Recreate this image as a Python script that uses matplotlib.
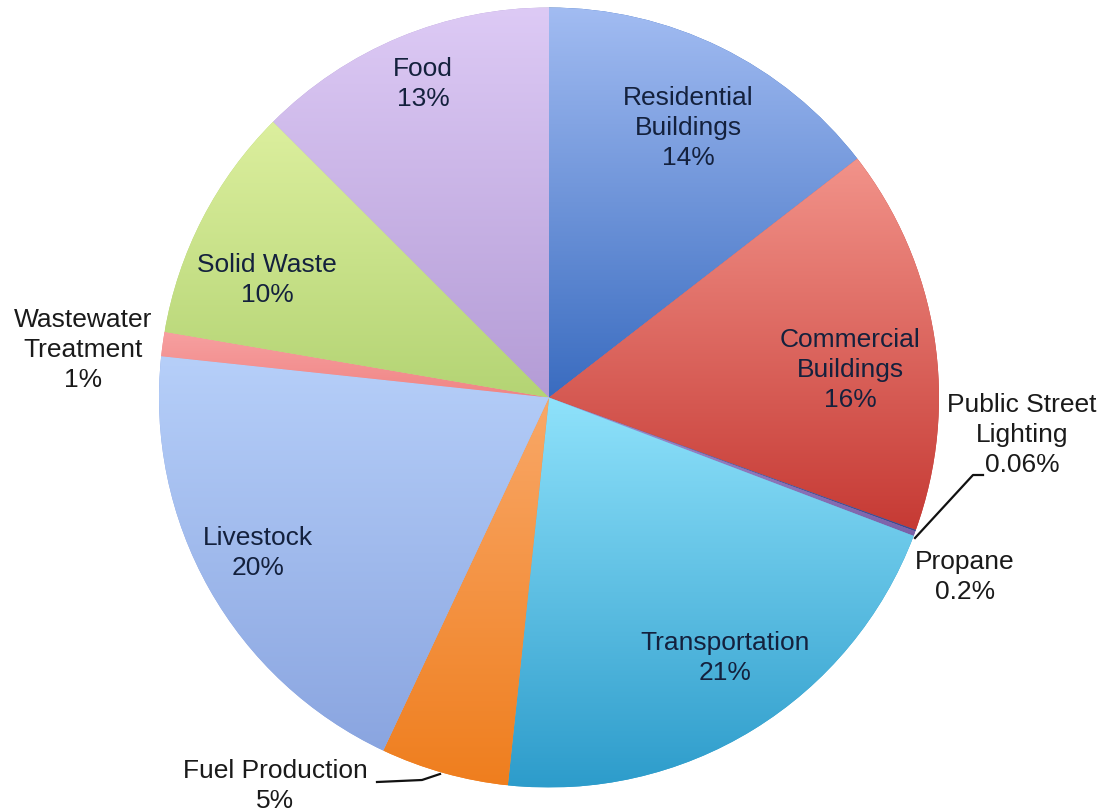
import numpy as np
import matplotlib
matplotlib.use("Agg")
import matplotlib.pyplot as plt
from matplotlib.colors import to_rgb

categories = ["Residential\nBuildings", "Commercial\nBuildings", "Public Street\nLighting",
              "Propane", "Transportation", "Fuel Production", "Livestock",
              "Wastewater\nTreatment", "Solid Waste", "Food"]
values = [14.5, 16.0, 0.06, 0.2, 20.9, 5.3, 19.7, 1.0, 9.8, 12.5]
pct_labels = ["14%", "16%", "0.06%", "0.2%", "21%", "5%", "20%", "1%", "10%", "13%"]

top_colors = ["#a2bcf2", "#f2938a", "#6a78b8", "#a890d0", "#8fe2fb", "#f9a868",
              "#b6cff9", "#f7a0a0", "#dcef9e", "#ddcaf5"]
bot_colors = ["#3a6cc0", "#c63a34", "#3a4a90", "#7a60a8", "#2d9ccb", "#ef7e1e",
              "#8aa5e0", "#f08585", "#b4d474", "#b49cd6"]

W, H = 1111, 811
fig = plt.figure(figsize=(W / 100, H / 100), dpi=100)
cx, cy, R = 549, 397.5, 390
ax = fig.add_axes([(cx - R) / W, (H - cy - R) / H, 2 * R / W, 2 * R / H])
ax.set_xlim(-1, 1)
ax.set_ylim(-1, 1)
ax.set_aspect("equal")
ax.axis("off")

wedges, _ = ax.pie(values, startangle=90, counterclock=False, radius=1,
                   colors=bot_colors, wedgeprops=dict(linewidth=0))
ax.set_xlim(-1, 1)
ax.set_ylim(-1, 1)

for w, tc, bc in zip(wedges, top_colors, bot_colors):
    ext = w.get_path().get_extents()
    t = np.linspace(0, 1, 256)[:, None]
    c0 = np.array(to_rgb(tc)); c1 = np.array(to_rgb(bc))
    grad = c0[None, None, :] * (1 - t[:, :, None]) + c1[None, None, :] * t[:, :, None]
    grad = np.repeat(grad, 2, axis=1)
    im = ax.imshow(grad, extent=[ext.x0, ext.x1, ext.y0, ext.y1], origin="upper",
                   aspect="auto", interpolation="bilinear", zorder=w.get_zorder())
    im.set_clip_path(w)


def d(px, py):
    return ((px - cx) / R, (cy - py) / R)


inside = "#14213d"
outside = "#1a1a1a"
label_pos = [(688, 128, inside), (850, 370, inside), (1022, 435, outside),
             (965, 577, outside), (725, 658, inside), (275, 786, outside),
             (258, 553, inside), (83, 350, outside), (267, 280, inside),
             (423, 84, inside)]

for cat, pct, (px, py, col) in zip(categories, pct_labels, label_pos):
    x, y = d(px, py)
    ax.text(x, y, cat + "\n" + pct, ha="center", va="center", fontsize=19,
            family=["Liberation Sans", "DejaVu Sans"], color=col,
            linespacing=1.29, zorder=10)

# leader lines
pts = [d(915, 538), d(973, 475), d(983, 475)]
ax.plot([p[0] for p in pts], [p[1] for p in pts], color="#111111", lw=1.6,
        zorder=10, clip_on=False)
pts = [d(377, 782), d(422, 780), d(440, 774)]
ax.plot([p[0] for p in pts], [p[1] for p in pts], color="#111111", lw=1.6,
        zorder=10, clip_on=False)

fig.savefig("out.png", dpi=100)
